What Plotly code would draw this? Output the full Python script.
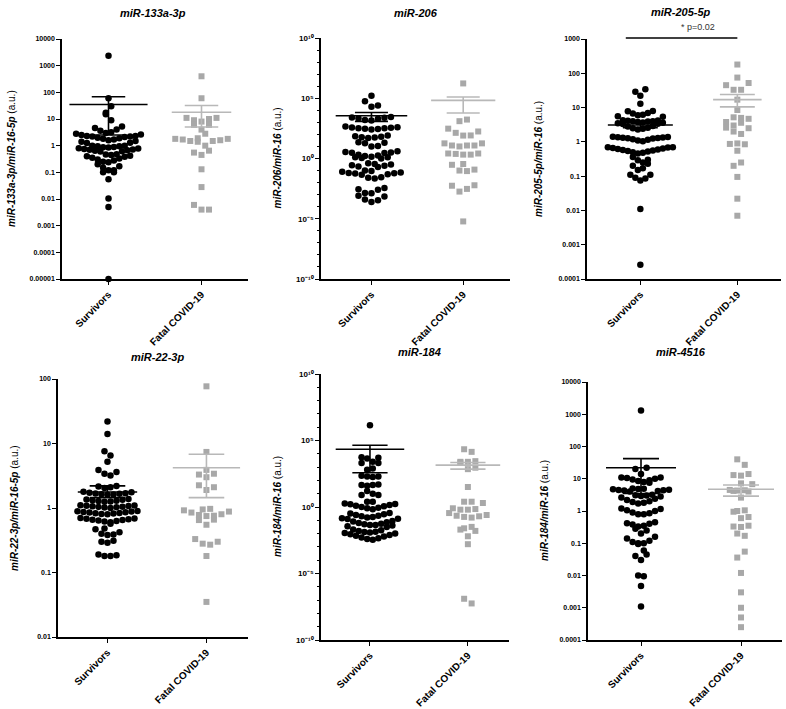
import numpy as np
import plotly.graph_objects as go

W, H = 786, 709
groups = ["Survivors", "Fatal COVID-19"]

titles = ["miR-133a-3p", "miR-206", "miR-205-5p", "miR-22-3p", "miR-184", "miR-4516"]
ytitles = ["miR-133a-3p/miR-16-5p", "miR-206/miR-16", "miR-205-5p/miR-16",
           "miR-22-3p/miR-16-5p", "miR-184/miR-16", "miR-184/miR-16"]

# ---------------- data ----------------
surv1 = [2350, 60, 30, 17, 15, 9, 5.2,
         4.6, 4.0, 3.6, 3.2, 3.0, 2.8, 2.6, 2.5,
         2.3, 2.3, 2.2, 2.2, 2.1, 2.0, 1.9, 1.8, 1.7, 1.6, 1.5, 1.4, 1.3, 1.25,
         1.0, 1.0, 0.95, 0.95, 0.9, 0.88, 0.85, 0.8, 0.78, 0.75, 0.72, 0.7, 0.68, 0.65, 0.62, 0.6,
         0.48, 0.47, 0.45, 0.42, 0.4, 0.38, 0.35, 0.33, 0.3, 0.28,
         0.25, 0.24, 0.2, 0.17, 0.15, 0.12, 0.12, 0.1, 0.1, 0.055, 0.0105, 0.005, 0.00001]
fatal1 = [400, 60, 11, 11, 10, 9, 8, 6, 6, 4, 2.8, 1.9, 1.8, 1.8, 1.7, 1.6, 1.5, 1.5, 1.4,
          1.0, 0.65, 0.55, 0.45, 0.13, 0.028, 0.006, 0.004, 0.004]

surv2 = [1.6e5, 5.6e4, 2.5e4, 2.0e4,
         2800, 2500, 2400, 2200, 2000, 1600, 1400,
         450, 400, 380, 350, 330, 320, 300, 280, 250,
         80, 70, 63, 59, 56, 50,
         22, 20, 18, 11, 10,
         4.0, 3.5, 3.2, 3.0, 2.8,
         2.0, 1.8, 1.6, 1.4, 1.3, 1.25, 1.1, 1.0,
         0.4, 0.35, 0.32, 0.28, 0.25, 0.22, 0.2,
         0.1, 0.09, 0.08, 0.07, 0.063, 0.06, 0.056, 0.05, 0.045,
         0.028, 0.025, 0.022,
         0.0035, 0.0028, 0.0025, 0.0014, 0.0013, 8e-4, 7e-4, 4e-4, 3.5e-4, 2.5e-4]
fatal2 = [1.7e6, 1700, 1250, 300, 175, 135, 82, 80,
          18, 18, 12, 12, 12, 10,
          2.6, 2.6, 2.1, 2.1, 2.4,
          0.35, 0.3, 0.12, 0.09, 0.1,
          6e-3, 3e-3, 1.8e-3, 5.5e-3, 6e-6]

surv3 = [34, 29, 22, 13, 8.0, 7.8, 7.0, 6.7, 6.2, 6.0, 5.6, 5.4,
         4.3, 4.2, 4.1, 4.0, 4.0, 3.9, 3.8, 3.7, 3.6, 3.5, 3.4, 3.3,
         2.9, 2.8, 2.6, 2.5, 2.4, 2.3,
         1.4, 1.38, 1.36, 1.34, 1.32, 1.3, 1.28, 1.25, 1.2, 1.15, 1.1, 1.05,
         0.7, 0.7, 0.68, 0.66, 0.64, 0.62, 0.6, 0.58, 0.56, 0.54, 0.52, 0.5, 0.48, 0.46,
         0.36, 0.3, 0.29, 0.25, 0.23, 0.2, 0.17, 0.15,
         0.11, 0.11, 0.09, 0.085, 0.075, 0.011, 0.00026]
fatal3 = [180, 75, 52, 45, 33, 33, 17, 8.5, 5.2, 5.0, 4.7, 3.8, 3.6, 3.0, 2.6, 2.5, 2.0, 1.7,
          0.9, 0.87, 0.85, 0.55, 0.25, 0.2, 0.095, 0.022, 0.007]

surv4 = [22, 14, 7.6, 6.5, 5.2, 3.9, 3.6, 3.4, 3.2,
         2.2, 2.15, 2.1, 2.05,
         1.78, 1.75, 1.72, 1.7, 1.68, 1.66, 1.64, 1.62, 1.6,
         1.38, 1.36, 1.34, 1.32, 1.3, 1.28, 1.26, 1.25,
         1.1, 1.09, 1.08, 1.07, 1.06, 1.05, 1.04, 1.03, 1.02, 1.0,
         0.9, 0.89, 0.88, 0.87, 0.86, 0.85, 0.84, 0.83, 0.82, 0.81, 0.8,
         0.7, 0.69, 0.68, 0.67, 0.66, 0.65, 0.64, 0.63, 0.62, 0.6, 0.57,
         0.48, 0.47, 0.42, 0.4, 0.39, 0.38, 0.31, 0.3, 0.29,
         0.19, 0.185, 0.18, 0.18]
fatal4 = [77, 7.4, 3.9, 3.4, 3.3, 3.0, 2.25, 2.1, 1.9,
          0.97, 0.95, 0.92, 0.88, 0.85, 0.8, 0.78, 0.76, 0.75,
          0.66, 0.65, 0.55, 0.33, 0.3, 0.28, 0.27, 0.18, 0.035]

surv5 = [1.4e6, 5.6e3, 5.0e3, 4.5e3, 2.5e3, 2.0e3, 2.0e3, 800, 630,
         220, 200, 200, 180, 50, 45, 45, 40, 16, 10, 8, 8, 2.5, 2.5,
         1.8, 1.66, 1.58, 1.41, 1.26, 1.12, 1.0, 0.89, 0.8, 0.68,
         0.35, 0.32, 0.28, 0.25, 0.22, 0.2, 0.18, 0.16, 0.14, 0.13, 0.125,
         0.089, 0.08, 0.07, 0.063, 0.056, 0.05, 0.045, 0.04, 0.035, 0.032, 0.045,
         0.02, 0.018, 0.016, 0.014, 0.013, 0.012, 0.011, 0.01, 0.009, 0.008,
         0.007, 0.006, 0.005, 0.0045, 0.004, 0.0035]
fatal5 = [2.2e4, 1.4e4, 2800, 2500, 2500, 2200, 900, 700, 32,
          2.5, 2.5, 2.0, 0.8, 0.63, 0.63, 0.7,
          0.35, 0.2, 0.16, 0.25, 0.18, 0.22,
          0.025, 0.02, 0.016, 0.032, 0.0063, 0.0016, 5.6e-8, 1.26e-7]

surv6 = [1300, 22, 20, 14,
         11, 11, 10.5, 10, 9.5, 9, 8.5, 8, 7.5,
         5.0, 4.9, 4.8, 4.7, 4.6, 4.5, 4.4, 4.3, 4.2, 4.0,
         3.2, 3.1, 3.0, 2.9, 2.8, 2.6, 2.4, 2.2, 2.0, 1.9, 1.8, 1.7,
         1.2, 1.15, 1.05, 1.0, 0.9, 0.85, 0.8, 0.8,
         0.45, 0.42, 0.4, 0.38, 0.35, 0.33,
         0.28, 0.25, 0.2,
         0.16, 0.14, 0.12, 0.11, 0.1, 0.1, 0.095,
         0.06, 0.045, 0.04, 0.03, 0.0095, 0.01, 0.0047, 0.0011]
fatal6 = [40, 27, 14, 13, 12.5, 7.2, 6.8, 4.5, 4.4, 4.3, 4.2, 4.0, 2.6,
          1.05, 1.0, 0.95, 0.65, 0.6, 0.35, 0.33, 0.32, 0.2, 0.17,
          0.055, 0.036, 0.012, 0.003, 0.001, 0.0005, 0.00025]

# mean and mean +/- SEM as drawn: (mean, upper, lower) per group
stats = [
    [(35, 68, 2.5), (18, 32, 5)],
    [(3500, 6600, 1200), (6.6e4, 1.26e5, 6000)],
    [(3.1, 3.6, 2.6), (17, 24, 10.5)],
    [(1.77, 2.2, 1.45), (4.2, 6.8, 1.45)],
    [(2.2e4, 4.4e4, 380), (1400, 2200, 700)],
    [(22, 42, 3.5), (4.7, 6.4, 2.9)],
]
survivors = [surv1, surv2, surv3, surv4, surv5, surv6]
fatal = [fatal1, fatal2, fatal3, fatal4, fatal5, fatal6]

dec_ticks = [1e-5, 1e-4, 1e-3, 1e-2, 1e-1, 1, 10, 100, 1000, 1e4]
dec_text = ["0.00001", "0.0001", "0.001", "0.01", "0.1", "1", "10", "100", "1000", "10000"]
pow_ticks = [1e-10, 1e-5, 1, 1e5, 1e10]
pow_text = ["10\u207b\u00b9\u2070", "10\u207b\u2075", "10\u2070", "10\u2075", "10\u00b9\u2070"]

# ---------------- layout geometry (pixels) ----------------
panels = [
    dict(px=(62, 248), py=(39, 279), ylog=(-5, 4), xr=(-0.5, 1.5), pw=True, dx=(5.4, 7.5),
         rowpx=7.0, mhw=(0.42, 0.32), tpos=(153, 13), ytx=11),
    dict(px=(321, 510), py=(38, 279), ylog=(-10, 10), xr=(-0.55, 1.51), pw=False, dx=(6.5, 7.5),
         rowpx=7.0, mhw=(0.39, 0.35), tpos=(416, 13), ytx=277),
    dict(px=(587, 781), py=(39, 279), ylog=(-4, 3), xr=(-0.55, 1.45), pw=True, dx=(5.0, 7.5),
         rowpx=7.0, mhw=(0.335, 0.25), tpos=(681, 12), ytx=538),
    dict(px=(58, 248), py=(379, 637), ylog=(-2, 2), xr=(-0.5, 1.42), pw=True, dx=(6.0, 7.5),
         rowpx=6.0, mhw=(0.30, 0.34), tpos=(157, 357), ytx=14),
    dict(px=(321, 509), py=(374, 640), ylog=(-10, 10), xr=(-0.5, 1.42), pw=False, dx=(5.6, 7.5),
         rowpx=7.0, mhw=(0.35, 0.33), tpos=(419, 352), ytx=277),
    dict(px=(588, 782), py=(382, 640), ylog=(-4, 4), xr=(-0.53, 1.41), pw=True, dx=(5.6, 7.5),
         rowpx=7.0, mhw=(0.35, 0.33), tpos=(681, 352), ytx=544),
]

FONT = "Liberation Sans, Arial, sans-serif"
BLACK = "#000000"
GREY = "#A8A8A8"
GREY_BAR = "#B8B8B8"


def swarm_x(vals, center, row_dec, dx_units):
    lg = np.log10(np.asarray(vals, float))
    order = np.argsort(lg, kind="stable")
    rows, cur, start = [], [], None
    for i in order:
        if start is None or lg[i] - start > row_dec:
            if cur:
                rows.append(cur)
            cur, start = [i], lg[i]
        else:
            cur.append(i)
    if cur:
        rows.append(cur)
    xs = np.zeros(len(lg))
    for k, r in enumerate(rows):
        n = len(r)
        slots = [j - (n - 1) / 2 for j in range(n)]
        sgn = 1 if k % 2 else -1
        slots.sort(key=lambda s: (abs(s), sgn * s))
        for idx, s in zip(r, slots):
            xs[idx] = center + s * dx_units
    return xs


fig = go.Figure()
layout = dict(template="none", width=W, height=H, margin=dict(l=0, r=0, t=0, b=0),
              paper_bgcolor="white", plot_bgcolor="white", showlegend=False,
              font=dict(family=FONT, color=BLACK))
annotations = []
shapes = []

for i, p in enumerate(panels):
    n = i + 1
    xa = "x" if n == 1 else f"x{n}"
    ya = "y" if n == 1 else f"y{n}"
    xd = [p["px"][0] / W, p["px"][1] / W]
    yd = [1 - p["py"][1] / H, 1 - p["py"][0] / H]
    ax_w = p["px"][1] - p["px"][0]
    ax_h = p["py"][1] - p["py"][0]
    xspan = p["xr"][1] - p["xr"][0]
    lspan = p["ylog"][1] - p["ylog"][0]
    row_dec = p["rowpx"] * lspan / ax_h

    for g, (vals, col, sym, size) in enumerate([(survivors[i], BLACK, "circle", 6.5),
                                                 (fatal[i], GREY, "square", 6)]):
        xs = swarm_x(vals, g, row_dec, p["dx"][g] * xspan / ax_w)
        fig.add_trace(go.Scatter(x=xs, y=vals, mode="markers", xaxis=xa, yaxis=ya,
                                 marker=dict(color=col, symbol=sym, size=size, line=dict(width=0)),
                                 cliponaxis=False, hoverinfo="y"))
    for g in range(2):
        m, hi, lo = stats[i][g]
        hw = p["mhw"][g]
        cw = 0.18
        ex = [g - hw, g + hw, None, g, g, None, g - cw, g + cw, None, g - cw, g + cw]
        ey = [m, m, None, lo, hi, None, hi, hi, None, lo, lo]
        fig.add_trace(go.Scatter(x=ex, y=ey, mode="lines", xaxis=xa, yaxis=ya,
                                 line=dict(color=BLACK if g == 0 else GREY_BAR, width=1.6),
                                 cliponaxis=False, hoverinfo="skip"))

    xkey = "xaxis" if n == 1 else f"xaxis{n}"
    ykey = "yaxis" if n == 1 else f"yaxis{n}"
    layout[xkey] = dict(domain=xd, anchor=ya, range=list(p["xr"]), tickmode="array",
                        tickvals=[0, 1], ticktext=groups, tickangle=-45,
                        tickfont=dict(size=10, weight="bold", family=FONT, color=BLACK),
                        showline=True, linecolor=BLACK, linewidth=1.5, ticks="outside",
                        ticklen=4, tickwidth=1.3, tickcolor=BLACK, showgrid=False,
                        zeroline=False, fixedrange=True, automargin=False)
    ydict = dict(domain=yd, anchor=xa, type="log", range=list(p["ylog"]),
                 tickmode="array", showline=True, linecolor=BLACK, linewidth=1.5,
                 ticks="outside", ticklen=4, tickwidth=1.3, tickcolor=BLACK,
                 showgrid=False, zeroline=False, automargin=False, fixedrange=True,
                 tickfont=dict(size=7, weight="bold", family=FONT, color=BLACK))
    if p["pw"]:
        lo_e, hi_e = p["ylog"]
        sel = [k for k, v in enumerate(dec_ticks) if lo_e <= np.log10(v) + 1e-9 and np.log10(v) <= hi_e + 1e-9]
        ydict["tickvals"] = [dec_ticks[k] for k in sel]
        ydict["ticktext"] = [dec_text[k] for k in sel]
    else:
        ydict["tickvals"] = pow_ticks
        ydict["ticktext"] = pow_text
        ydict["tickfont"] = dict(size=8, weight="bold", family=FONT, color=BLACK)
        ydict["minor"] = dict(tickmode="array",
                              tickvals=[10.0 ** e for e in range(-10, 11) if e % 5],
                              ticks="outside", ticklen=2, tickwidth=1, tickcolor=BLACK)
    layout[ykey] = ydict

    annotations.append(dict(text=titles[i], x=p["tpos"][0] / W,
                            y=1 - p["tpos"][1] / H, xref="paper", yref="paper",
                            showarrow=False,
                            font=dict(size=11, family=FONT, weight="bold", style="italic", color=BLACK),
                            xanchor="center", yanchor="middle"))
    annotations.append(dict(text=f"<b><i>{ytitles[i]}</i></b> (a.u.)", x=p["ytx"] / W,
                            y=(yd[0] + yd[1]) / 2, xref="paper", yref="paper",
                            showarrow=False, textangle=-90,
                            font=dict(size=10, family=FONT, color=BLACK),
                            xanchor="center", yanchor="middle"))

# significance marker on miR-205-5p
shapes.append(dict(type="line", xref="x3", yref="paper", x0=-0.15, x1=1.0,
                   y0=1 - 38 / H, y1=1 - 38 / H, line=dict(color=BLACK, width=1.5)))
annotations.append(dict(text="* p=0.02", x=0.59, y=1 - 27 / H, xref="x3", yref="paper",
                        showarrow=False, font=dict(size=9, family=FONT, color="#333333"),
                        xanchor="center", yanchor="middle"))

layout["annotations"] = annotations
layout["shapes"] = shapes
fig.update_layout(**layout)
fig.write_html("out.html", config={"displayModeBar": False},
               post_script="document.body.style.margin='0px';")
